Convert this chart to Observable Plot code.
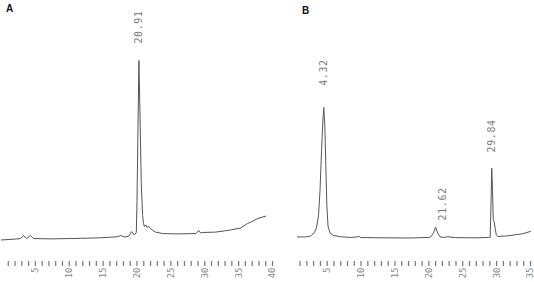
<!DOCTYPE html>
<html><head><meta charset="utf-8">
<script src="https://cdn.jsdelivr.net/npm/d3@7"></script>
<script src="https://cdn.jsdelivr.net/npm/@observablehq/plot@0.6"></script>
<style>
html,body{margin:0;padding:0;background:#fff;}
#wrap{position:relative;width:534px;height:282px;overflow:hidden;background:#fff;}
#a,#b{position:absolute;top:0;}
#a{left:0;} #b{left:276px;}
.tag{position:absolute;font:bold 10px "Liberation Sans",Arial,sans-serif;color:#111;line-height:12px;}
g[aria-label="text"]{letter-spacing:0.6px;}
</style></head>
<body>
<div id="wrap"><div id="a"></div><div id="b"></div>
<span class="tag" style="left:6px;top:3px">A</span>
<span class="tag" style="left:302px;top:5px">B</span></div>
<script>
// Panel A chromatogram (retention time, min; detector signal, relative)
const timesA = [0, 2.07, 2.8, 3.25, 3.7, 4.28, 4.7, 7.2, 11.7, 14.6, 17.1, 17.6, 18.2, 18.8, 19.2, 19.6, 19.9,
  20.0, 20.16, 20.28, 20.43, 20.63, 20.83, 20.97, 21.1, 21.3, 21.5, 21.7, 22.0, 22.7, 23.8, 25.7,
  28.7, 29.1, 29.4, 29.7, 31.6, 33.8, 35.3, 36.3, 36.8, 37.8, 39.0];
const signalA = [-0.8, -0.3, 0, 1.7, 0, 1.7, 0, -0.2, 0.1, 0.4, 1.0, 1.7, 0.8, 1.4, 3.9, 2.0, 3.4,
  21.3, 66, 100, 71.7, 30.8, 12.9, 8.4, 6.7, 7.6, 6.2, 7.0, 5.6, 3.6, 2.8, 2.6,
  2.8, 4.5, 3.1, 3.4, 3.6, 4.8, 5.9, 8.4, 9.2, 11.2, 12.6];
const peakTimesA = [20.28];
const peakHeightsA = [100];
const peakLabelsA = ["20.91"];
const ticksA = d3.range(1, 41);

// Panel B chromatogram
const timesB = [0.62, 1.8, 2.54, 3.13, 3.43, 3.72, 3.94, 4.17, 4.36, 4.5, 4.65, 4.8, 4.95, 5.13, 5.42, 5.94, 6.97,
  8.45, 9.48, 9.7, 9.93, 12.9, 17.3, 20.0, 20.27, 20.64, 21.0, 21.3, 21.67, 22.19, 22.78, 23.96, 26.9, 28.8,
  29.05, 29.17, 29.28, 29.4, 29.5, 29.65, 29.8, 29.95, 30.17, 31.35, 32.8, 33.86, 35.0];
const signalB = [0.3, 0.3, 0.8, 2.8, 5.6, 12.3, 26.3, 48.7, 65.5, 73, 62.7, 40.3, 17.9, 6.2, 2.5, 1.1, 0.4,
  0, 0.3, 0.7, 0, -0.2, -0.3, 0, 0.3, 2.2, 5.8, 2.5, 0.3, 0, 0.4, -0.1, -0.2, 0,
  0.1, 17.9, 38.8, 26.3, 10.6, 8.4, 5.0, 1.4, 0.6, 0.8, 1.5, 2.1, 3.4];
const peakTimesB = [4.5, 21.0, 29.28];
const peakHeightsB = [73, 5.8, 38.8];
const peakLabelsB = ["4.32", "21.62", "29.84"];
const ticksB = d3.range(1, 36);

const mono = "DejaVu Sans Mono, monospace";
const fmt = d => (d % 5 === 0 ? String(d) : "");

function axis(ticks) {
  return Plot.axisX(ticks, {anchor: "bottom", tickSize: 5, tickPadding: 1, tickRotate: -90,
    textAnchor: "end", tickFormat: fmt, fontSize: 9, fontFamily: mono, stroke: "#777", strokeWidth: 1.2, fill: "#8a8a8a"});
}
function labels(times, heights, texts, offsets) {
  return texts.map((lab, i) => Plot.text([i], {
    x: j => times[j], y: j => heights[j], text: j => texts[j],
    rotate: -90, textAnchor: "start", dx: offsets[i][0], dy: offsets[i][1],
    fontSize: 10, fontFamily: mono, fill: "#7a7a7a"
  }));
}

const chartA = Plot.plot({
  width: 276, height: 282, marginLeft: 1, marginRight: 4, marginTop: 0, marginBottom: 21,
  x: {domain: [0, 40]},
  y: {domain: [-12.9, 133.7], axis: null},
  style: {background: "transparent", overflow: "visible"},
  marks: [
    axis(ticksA),
    Plot.line(d3.zip(timesA, signalA), {x: d => d[0], y: d => d[1], stroke: "#555", strokeWidth: 1}),
    ...labels(peakTimesA, peakHeightsA, peakLabelsA, [[0, -17]])
  ]
});
document.getElementById("a").append(chartA);

const chartB = Plot.plot({
  width: 258, height: 282, marginLeft: 16.8, marginRight: 4, marginTop: 0, marginBottom: 21,
  x: {domain: [0, 35]},
  y: {domain: [-13.5, 133.1], axis: null},
  style: {background: "transparent", overflow: "visible"},
  marks: [
    axis(ticksB),
    Plot.line(d3.zip(timesB, signalB), {x: d => d[0], y: d => d[1], stroke: "#555", strokeWidth: 1}),
    ...labels(peakTimesB, peakHeightsB, peakLabelsB, [[0, -21.7], [6.7, -6.7], [0, -16]])
  ]
});
document.getElementById("b").append(chartB);
</script>
</body></html>
